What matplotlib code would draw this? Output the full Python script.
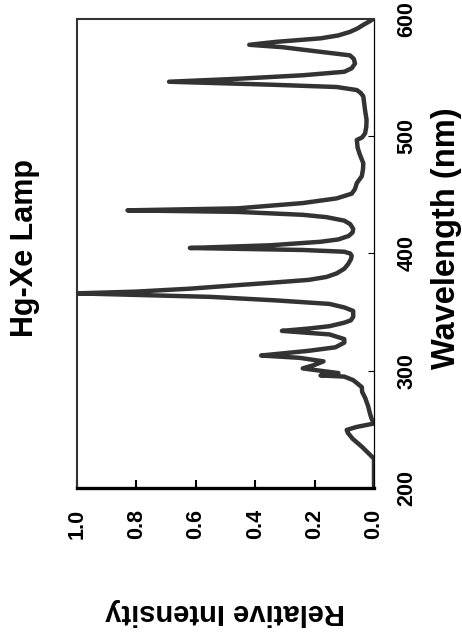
import matplotlib
matplotlib.use('Agg')
import matplotlib.pyplot as plt

wavelength = [200, 215, 225, 235, 242, 247, 249.5, 252, 255, 259, 263, 270, 277, 282, 286,
              290, 292, 295, 296, 298, 302, 305, 308, 311, 313, 315, 317, 320, 324,
              327, 331, 334, 336, 338, 341, 343, 346, 348, 351, 354, 357, 360, 363, 365, 366,
              367.5, 370, 373, 375, 377.5, 380, 383, 387, 391, 395, 398, 400, 401.5, 403, 404.7,
              407, 410, 412, 415, 418, 421, 425, 428, 431, 433, 435.5, 436.8, 438.5, 443, 447,
              451, 455, 460, 466, 472, 477, 484, 490, 496.8, 499, 502.5, 508, 514, 522, 528,
              534, 537, 539.4, 542, 544, 546.5, 549, 552, 555, 558, 562, 566, 569, 572, 576,
              578, 580.5, 583.5, 586, 589, 592, 595, 598, 600]
intensity = [0.0, 0.0, 0.0, 0.04, 0.072, 0.088, 0.092, 0.06, 0.0, 0.008, 0.013, 0.02, 0.03, 0.04,
             0.041, 0.06, 0.07, 0.10, 0.18, 0.12, 0.24, 0.20, 0.17, 0.25, 0.38, 0.30, 0.22, 0.13,
             0.10, 0.10, 0.15, 0.31, 0.22, 0.15, 0.10, 0.078, 0.07, 0.07, 0.07, 0.10, 0.15, 0.33,
             0.55, 0.85, 1.0, 0.80, 0.62, 0.46, 0.35, 0.22, 0.16, 0.126, 0.10, 0.087, 0.078, 0.075,
             0.08, 0.10, 0.24, 0.62, 0.35, 0.18, 0.12, 0.085, 0.072, 0.07, 0.08, 0.10, 0.16, 0.24,
             0.46, 0.83, 0.46, 0.24, 0.126, 0.075, 0.064, 0.058, 0.041, 0.037, 0.036, 0.047, 0.055,
             0.058, 0.04, 0.03, 0.026, 0.025, 0.03, 0.033, 0.036, 0.045, 0.058, 0.126, 0.35, 0.69,
             0.46, 0.24, 0.10, 0.075, 0.064, 0.068, 0.081, 0.18, 0.31, 0.42, 0.33, 0.18, 0.12,
             0.081, 0.055, 0.036, 0.015, 0.003]

int_ticks = [0.0, 0.2, 0.4, 0.6, 0.8, 1.0]
wl_ticks = [200, 300, 400, 500, 600]

plt.rcParams['font.family'] = ['Liberation Sans', 'DejaVu Sans']
plt.rcParams['font.weight'] = 'bold'

fig = plt.figure(figsize=(4.62, 6.43), dpi=100)
ax = fig.add_axes([77 / 462, 155 / 643, 297 / 462, 469 / 643])

# whole chart is turned 90 degrees: intensity runs right-to-left, wavelength upward
ax.plot(intensity, wavelength, color='#333333', lw=3.2,
        solid_joinstyle='round', solid_capstyle='round')
ax.set_xlim(1.0, 0.0)
ax.set_ylim(200, 600)

ax.set_xticks(int_ticks)
ax.set_xticklabels([f'{v:.1f}' for v in int_ticks], rotation=90, fontsize=15.5, fontweight='bold')
ax.yaxis.tick_right()
ax.set_yticks(wl_ticks)
ax.set_yticklabels([str(v) for v in wl_ticks], rotation=90, fontsize=15.5, fontweight='bold',
                   va='center')

ax.tick_params(axis='x', direction='in', length=6, width=1.5, color='black', pad=15)
ax.tick_params(axis='y', direction='in', length=4.5, width=0.8, color='black', pad=16)

for side in ['left', 'top']:
    ax.spines[side].set_color('#333333')
    ax.spines[side].set_linewidth(1.5)
ax.spines['bottom'].set_color('black')
ax.spines['bottom'].set_linewidth(2.4)
ax.spines['right'].set_color('black')
ax.spines['right'].set_linewidth(0.9)

ax.set_xlabel('Relative Intensity', fontsize=21, fontweight='bold', rotation=180)
ax.xaxis.set_label_coords(0.5, (488 - 612) / 469)
ax.xaxis.label.set_va('center')

ax.set_ylabel('Wavelength (nm)', fontsize=23.5, fontweight='bold', rotation=90)
ax.yaxis.set_label_position('right')
ax.yaxis.set_label_coords((446 - 77) / 297, (488 - 238) / 469)
ax.yaxis.label.set_va('center')
ax.yaxis.label.set_ha('center')

fig.text(25 / 462, 1 - 248 / 643, 'Hg-Xe Lamp', rotation=90, fontsize=22,
         fontweight='bold', ha='center', va='center')

# clipped panel letter at the very bottom edge
fig.text(231 / 462, 1 - 636 / 643, 'a', rotation=180, fontsize=21,
         fontweight='bold', ha='center', va='top')

fig.savefig('out.png', dpi=100)
